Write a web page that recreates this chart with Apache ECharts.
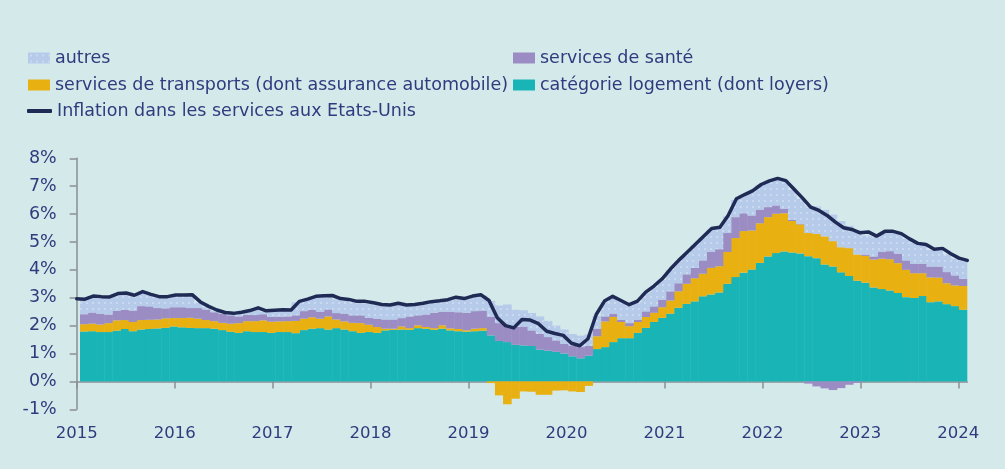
<!DOCTYPE html>
<html>
<head>
<meta charset="utf-8">
<title>Inflation dans les services aux Etats-Unis</title>
<script src="https://cdn.jsdelivr.net/npm/echarts@6/dist/echarts.min.js"></script>
<style>
  html, body { margin: 0; padding: 0; background: #d4eaea; }
  #chart { width: 1005px; height: 469px; }
</style>
</head>
<body>
<div id="chart"></div>
<script>
// contributions mensuelles (points de %), janv. 2015 -> janv. 2024
const logement = [
  1.79, 1.80, 1.77, 1.77, 1.82, 1.88, 1.80, 1.86, 1.88, 1.90, 1.92, 1.97, 1.94, 1.92, 1.91, 1.91, 1.89, 1.84, 1.78, 1.74, 1.80, 1.77, 1.77, 1.74, 1.77, 1.77, 1.73, 1.84,
  1.89, 1.91, 1.86, 1.91, 1.86, 1.80, 1.74, 1.77, 1.74, 1.83, 1.85, 1.86, 1.85, 1.91, 1.89, 1.85, 1.89, 1.83, 1.80, 1.78, 1.80, 1.82,
  1.65, 1.45, 1.41, 1.31, 1.29, 1.27, 1.14, 1.10, 1.06, 1.00, 0.90, 0.83, 0.92, 1.16, 1.23, 1.41, 1.55, 1.55, 1.74, 1.92, 2.13, 2.28, 2.43, 2.64, 2.78, 2.87, 3.05, 3.12, 3.19, 3.50, 3.74, 3.90,
  4.01, 4.25, 4.48, 4.60, 4.66, 4.62, 4.59, 4.49, 4.42, 4.19, 4.12, 3.91, 3.78, 3.61, 3.54, 3.37, 3.31, 3.26, 3.17, 3.02, 2.99, 3.06, 2.84, 2.87, 2.77, 2.70, 2.57
];
const transports = [
  0.26, 0.27, 0.27, 0.32, 0.37, 0.32, 0.33, 0.34, 0.33, 0.32, 0.34, 0.30, 0.33, 0.36, 0.34, 0.29, 0.27, 0.26, 0.29, 0.35, 0.36, 0.39, 0.42, 0.40, 0.38, 0.39, 0.44, 0.41,
  0.41, 0.34, 0.47, 0.31, 0.29, 0.30, 0.35, 0.26, 0.21, 0.06, 0.04, 0.11, 0.06, 0.10, 0.06, 0.06, 0.12, 0.07, 0.08, 0.05, 0.09, 0.09,
  -0.06, -0.50, -0.82, -0.62, -0.36, -0.37, -0.48, -0.48, -0.33, -0.32, -0.36, -0.38, -0.16,
  0.46, 0.92, 0.90, 0.58, 0.43, 0.39, 0.39, 0.33, 0.38, 0.47, 0.59, 0.72, 0.83, 0.81, 0.95, 0.94, 1.14, 1.40, 1.49,
  1.40, 1.42, 1.41, 1.41, 1.37, 1.13, 1.04, 0.83, 0.87, 1.01, 0.91, 0.90, 1.00, 0.94, 0.96, 1.00, 1.09, 1.12, 1.07, 0.98, 0.89, 0.82, 0.89, 0.85, 0.75, 0.74, 0.85
];
const sante = [
  0.36, 0.40, 0.39, 0.31, 0.34, 0.37, 0.41, 0.50, 0.48, 0.41, 0.36, 0.39, 0.39, 0.35, 0.38, 0.38, 0.32, 0.33, 0.30, 0.24, 0.23, 0.22, 0.22, 0.17, 0.16, 0.17, 0.20, 0.27,
  0.27, 0.25, 0.25, 0.23, 0.28, 0.27, 0.28, 0.25, 0.30, 0.33, 0.33, 0.30, 0.42, 0.36, 0.45, 0.55, 0.49, 0.60, 0.60, 0.63, 0.63, 0.63,
  0.66, 0.64, 0.60, 0.64, 0.68, 0.56, 0.57, 0.49, 0.41, 0.35, 0.39, 0.40, 0.35,
  0.27, 0.18, 0.12, 0.08, 0.11, 0.08, 0.20, 0.23, 0.27, 0.33, 0.29, 0.34, 0.37, 0.48, 0.57, 0.61, 0.68, 0.75, 0.64,
  0.54, 0.49, 0.36, 0.30, 0.16, 0.04, 0.02, -0.08, -0.18, -0.25, -0.31, -0.24, -0.12, -0.05, 0.05, 0.11, 0.24, 0.29, 0.34, 0.34, 0.34, 0.34, 0.39, 0.40, 0.40, 0.36, 0.26
];
const autres = [
  0.51, 0.56, 0.58, 0.60, 0.59, 0.57, 0.52, 0.49, 0.40, 0.38, 0.39, 0.41, 0.41, 0.45, 0.19, 0.08, 0.05, 0.01, 0.04, 0.12, 0.12, 0.23, 0.09, 0.21, 0.23, 0.20, 0.47, 0.40,
  0.45, 0.54, 0.47, 0.49, 0.48, 0.47, 0.47, 0.51, 0.48, 0.49, 0.55, 0.50, 0.38, 0.36, 0.37, 0.37, 0.36, 0.40, 0.51, 0.48, 0.51, 0.54,
  0.57, 0.63, 0.75, 0.62, 0.58, 0.62, 0.62, 0.58, 0.53, 0.51, 0.41, 0.41, 0.41, 0.46,
  0.51, 0.58, 0.65, 0.62, 0.63, 0.65, 0.69, 0.71, 0.76, 0.78, 0.74, 0.80, 0.82, 0.80, 0.75, 0.59, 0.62, 0.63,
  0.83, 0.87, 0.89, 0.92, 1.01, 1.08, 0.90, 0.98, 0.99, 0.95, 0.95, 0.94, 0.80, 0.87, 0.68, 0.72, 0.68, 0.68, 0.71, 0.77, 0.74, 0.68, 0.60, 0.61, 0.63, 0.60, 0.66
];
// inflation dans les services, glissement annuel (%)
const inflation = [
  2.96, 2.95, 3.06, 3.04, 3.03, 3.15, 3.17, 3.09, 3.22, 3.12, 3.04, 3.04, 3.10, 3.10, 3.11, 2.85, 2.69, 2.56, 2.47, 2.44, 2.48, 2.54, 2.64, 2.53, 2.55, 2.57, 2.56, 2.87,
  2.95, 3.05, 3.07, 3.08, 2.97, 2.94, 2.87, 2.87, 2.82, 2.76, 2.74, 2.80, 2.74, 2.76, 2.80, 2.86, 2.89, 2.93, 3.02, 2.97, 3.06, 3.11,
  2.90, 2.28, 2.00, 1.92, 2.22, 2.20, 2.07, 1.80, 1.72, 1.65, 1.37, 1.28, 1.53, 2.40, 2.88, 3.05, 2.90, 2.75, 2.88, 3.20, 3.42, 3.68, 4.03, 4.34, 4.62, 4.91, 5.20, 5.48, 5.53, 5.95, 6.55, 6.70,
  6.84, 7.06, 7.19, 7.28, 7.20, 6.89, 6.58, 6.25, 6.13, 5.95, 5.71, 5.51, 5.45, 5.33, 5.36, 5.21, 5.38, 5.38, 5.30, 5.11, 4.95, 4.91, 4.74, 4.77, 4.58, 4.42, 4.34
];
const years = ['2015', '2016', '2017', '2018', '2019', '2020', '2021', '2022', '2023', '2024'];
const yTicks = [-1, 0, 1, 2, 3, 4, 5, 6, 7, 8];

const NAMES = {
  autres: 'autres',
  sante: 'services de santé',
  transports: 'services de transports (dont assurance automobile)',
  logement: 'catégorie logement (dont loyers)',
  inflation: 'Inflation dans les services aux Etats-Unis',
};

// one category per month for the bars
const months = logement.map((_, i) => years[Math.floor(i / 12)] + '-' + String(i % 12 + 1).padStart(2, '0'));

// the visible x axis counts months from the Jan 2015 tick
const X_MAX = 109.1;
const lineX = i => i * X_MAX / (inflation.length - 1);

const TEXT = '#2e3b7e';
const AXIS = '#8a8e92';
const FONT = 'DejaVu Sans';
const PLOT = { top: 158.3, bottom: 59.7, right: 37.7 };

// dotted fill for "autres"
function dotPattern() {
  const c = document.createElement('canvas');
  c.width = 6; c.height = 6;
  const ctx = c.getContext('2d');
  ctx.fillStyle = '#b6caea';
  ctx.fillRect(0, 0, 6, 6);
  ctx.fillStyle = 'rgba(255,255,255,0.28)';
  ctx.fillRect(2, 2, 2, 2);
  return { image: c, repeat: 'repeat' };
}

function barSeries(name, data, color) {
  return {
    name, type: 'bar', stack: 'total', barWidth: 8.6,
    xAxisIndex: 0, yAxisIndex: 0,
    data,
    itemStyle: { color },
    emphasis: { disabled: true },
  };
}

function legendAt(name, left, top, extra) {
  return Object.assign({
    data: [name], left, top, padding: 0,
    itemWidth: 22, itemHeight: 11, itemGap: 0,
    selectedMode: false, icon: 'rect',
    textStyle: { color: TEXT, fontFamily: FONT, fontSize: 17.5 },
  }, extra);
}

const chart = echarts.init(document.getElementById('chart'));

chart.setOption({
  backgroundColor: '#d4eaea',
  animation: false,
  legend: [
    legendAt(NAMES.autres, 28, 49),
    legendAt(NAMES.sante, 513, 49),
    legendAt(NAMES.transports, 28, 76),
    legendAt(NAMES.logement, 513, 76),
    legendAt(NAMES.inflation, 27, 102, { icon: 'roundRect', itemWidth: 25, itemHeight: 4 }),
  ],
  grid: [
    // bars
    Object.assign({ left: 80, outerBoundsMode: 'none' }, PLOT),
    // axes and line
    Object.assign({ left: 76.7, outerBoundsMode: 'none' }, PLOT),
  ],
  xAxis: [
    { type: 'category', gridIndex: 0, data: months, show: false, boundaryGap: true },
    {
      type: 'value', gridIndex: 1, min: 0, max: X_MAX,
      axisLine: { onZero: true, lineStyle: { color: AXIS, width: 1.5 } },
      axisTick: { show: true, length: 7, lineStyle: { color: AXIS, width: 1.5 }, customValues: years.map((_, k) => k * 12) },
      axisLabel: {
        color: TEXT, fontFamily: FONT, fontSize: 16.5, margin: 16,
        customValues: years.map((_, k) => k * 12),
        formatter: v => years[Math.round(v / 12)],
      },
      splitLine: { show: false },
    },
  ],
  yAxis: [
    { type: 'value', gridIndex: 0, min: -1, max: 8, show: false },
    {
      type: 'value', gridIndex: 1, min: -1, max: 8, interval: 1,
      axisLine: { show: true, lineStyle: { color: AXIS, width: 1.5 } },
      axisTick: { show: true, length: 7, lineStyle: { color: AXIS, width: 1.5 }, customValues: yTicks },
      axisLabel: {
        color: TEXT, fontFamily: FONT, fontSize: 17.5, margin: 20,
        customValues: yTicks,
        formatter: v => v + '%',
      },
      splitLine: { show: false },
    },
  ],
  series: [
    barSeries(NAMES.logement, logement, '#19b4b6'),
    barSeries(NAMES.transports, transports, '#e8b010'),
    barSeries(NAMES.sante, sante, '#9b8cc4'),
    barSeries(NAMES.autres, autres, dotPattern()),
    {
      name: NAMES.inflation, type: 'line', z: 5,
      xAxisIndex: 1, yAxisIndex: 1,
      data: inflation.map((v, i) => [lineX(i), v]),
      symbol: 'none',
      lineStyle: { color: '#1f2a55', width: 3.5, cap: 'round', join: 'round' },
      itemStyle: { color: '#1f2a55' },
      emphasis: { disabled: true },
    },
  ],
});
</script>
</body>
</html>
